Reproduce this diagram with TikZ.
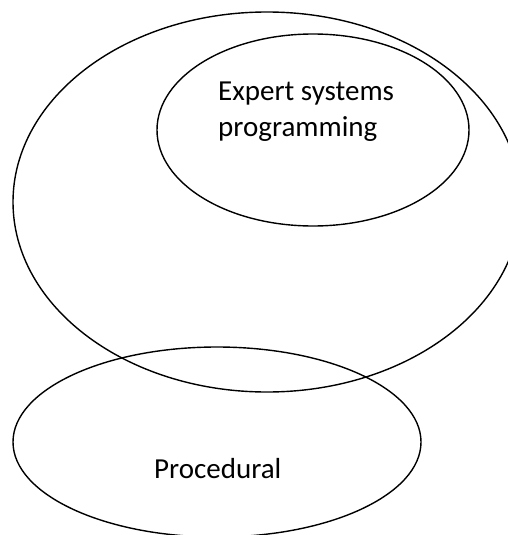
\documentclass[tikz,border=0pt]{standalone}
\usepackage{fontspec}
\setmainfont{Carlito}
\usetikzlibrary{shapes.geometric}
\begin{document}
\begin{tikzpicture}[x=1pt,y=-1pt,
  oval/.style={draw=black, line width=1.4pt, ellipse, inner sep=0pt},
  lbl/.style={anchor=base west, inner sep=0pt, font=\fontsize{29}{35}\selectfont}]
\useasboundingbox (0,0) rectangle (508,535);
\clip (0,0) rectangle (508,535);
\node[oval, minimum width=508pt, minimum height=380pt] (big) at (267,202) {};
\node[oval, minimum width=312pt, minimum height=192pt] (inner) at (313,130) {};
\node[oval, minimum width=408pt, minimum height=190pt] (proc) at (217,442) {};
\node[lbl] (t1) at (218,100) {Expert systems};
\node[lbl] (t2) at (218,136) {programming};
\node[lbl] (t3) at (154,478) {Procedural};
\end{tikzpicture}
\end{document}
